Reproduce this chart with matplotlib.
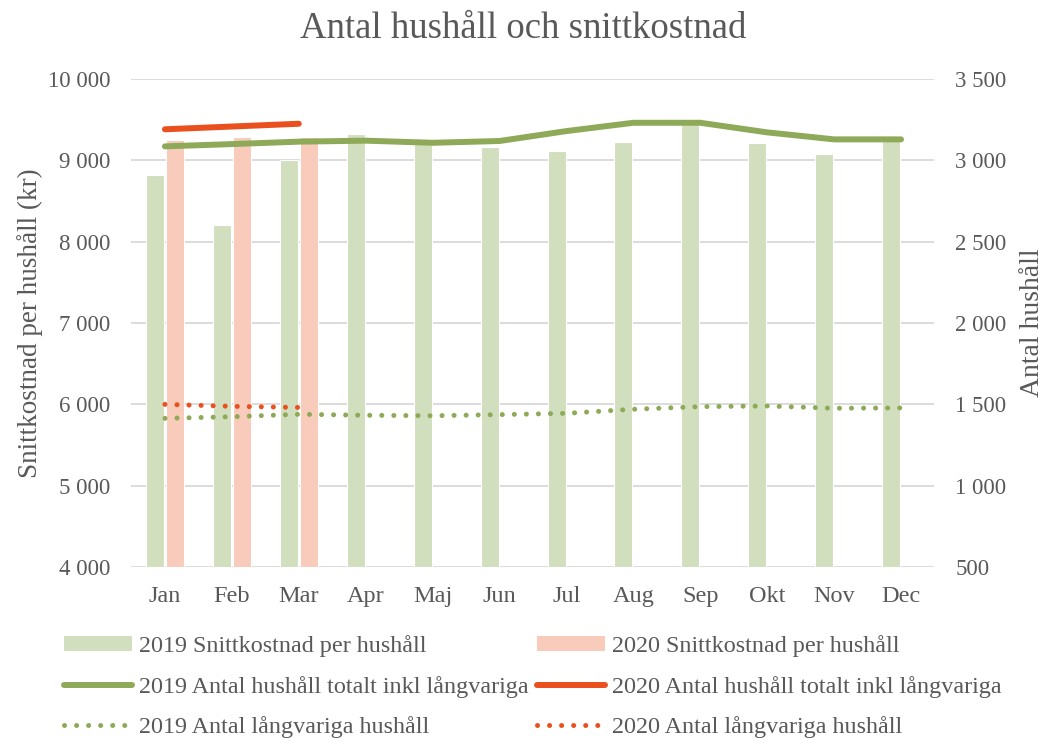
import numpy as np
import matplotlib.pyplot as plt
from matplotlib.ticker import FuncFormatter
from matplotlib.lines import Line2D
from matplotlib.patches import Patch

# --- Data ---
months = ['Jan', 'Feb', 'Mar', 'Apr', 'Maj', 'Jun', 'Jul', 'Aug', 'Sep', 'Okt', 'Nov', 'Dec']

# Snittkostnad per hushåll (kr), vänster axel
cost_2019 = [8820, 8200, 9010, 9320, 9200, 9160, 9120, 9230, 9450, 9210, 9080, 9240]
cost_2020 = [9250, 9290, 9290]

# Antal hushåll totalt inkl långvariga, höger axel
total_2019 = [3086, 3100, 3115, 3121, 3108, 3119, 3180, 3231, 3231, 3172, 3129, 3129]
total_2020 = [3191, 3208, 3225]

# Antal långvariga hushåll, höger axel
long_2019 = [1414, 1424, 1439, 1433, 1430, 1437, 1445, 1470, 1486, 1490, 1476, 1478]
long_2020 = [1500, 1488, 1481]

# --- Style ---
plt.rcParams['font.family'] = ['Liberation Serif', 'DejaVu Serif']
TXT = '#595959'
GRID = '#d9d9d9'
C_BAR19 = '#d2dfbe'
C_BAR20 = '#f8cbbb'
C_LINE19 = '#8eaa58'
C_LINE20 = '#e9501d'
FS = 16.5


def thousands(v, pos):
    return f'{int(v):,}'.replace(',', ' ')


fig = plt.figure(figsize=(10.46, 7.42), dpi=100)
ax = fig.add_axes([0.1257, 0.2358, 0.7677, 0.6577])
ax2 = ax.twinx()

x = np.arange(len(months))
w = 0.27
off = 0.148

ax.bar(x - off, cost_2019, width=w, color=C_BAR19, edgecolor='white', linewidth=0.8, zorder=2)
ax.bar(x[:len(cost_2020)] + off, cost_2020, width=w, color=C_BAR20, edgecolor='white',
       linewidth=0.8, zorder=2)

ax.set_xlim(-0.5, len(months) - 0.5)
ax.set_ylim(4000, 10000)
ax.set_yticks(np.arange(4000, 10001, 1000))
ax.yaxis.set_major_formatter(FuncFormatter(thousands))
ax.grid(axis='y', color=GRID, linewidth=1.3, zorder=0)
ax.set_axisbelow(True)
ax.set_xticks(x)
ax.set_xticklabels(months)

lw = 4.3
dot = (0, (0.01, 2.4))
ax2.plot(x, total_2019, color=C_LINE19, linewidth=lw, solid_capstyle='round', solid_joinstyle='round')
ax2.plot(x[:len(total_2020)], total_2020, color=C_LINE20, linewidth=lw, solid_capstyle='round')
ax2.plot(x, long_2019, color=C_LINE19, linewidth=3.6, linestyle=dot, dash_capstyle='round')
ax2.plot(x[:len(long_2020)], long_2020, color=C_LINE20, linewidth=3.6, linestyle=dot,
         dash_capstyle='round')
ax2.set_ylim(500, 3500)
ax2.set_yticks(np.arange(500, 3501, 500))
ax2.yaxis.set_major_formatter(FuncFormatter(thousands))

for a in (ax, ax2):
    for s in a.spines.values():
        s.set_visible(False)
    a.tick_params(length=0, labelsize=FS, labelcolor=TXT)
ax.tick_params(axis='y', pad=15)
ax2.tick_params(axis='y', pad=15)
ax.tick_params(axis='x', pad=14, labelsize=17.5)

ax.set_ylabel('Snittkostnad per hushåll (kr)', fontsize=19.5, color=TXT, labelpad=4)
ax2.set_ylabel('Antal hushåll', fontsize=20, color=TXT, labelpad=10)

fig.suptitle('Antal hushåll och snittkostnad', fontsize=26.5, color=TXT, y=0.984)

handles = [
    Patch(facecolor=C_BAR19, label='2019 Snittkostnad per hushåll'),
    Line2D([], [], color=C_LINE19, linewidth=lw, solid_capstyle='round',
           label='2019 Antal hushåll totalt inkl långvariga'),
    Line2D([], [], color=C_LINE19, linewidth=3.6, linestyle=dot, dash_capstyle='round',
           label='2019 Antal långvariga hushåll'),
    Patch(facecolor=C_BAR20, label='2020 Snittkostnad per hushåll'),
    Line2D([], [], color=C_LINE20, linewidth=lw, solid_capstyle='round',
           label='2020 Antal hushåll totalt inkl långvariga'),
    Line2D([], [], color=C_LINE20, linewidth=3.6, linestyle=dot, dash_capstyle='round',
           label='2020 Antal långvariga hushåll'),
]
leg = fig.legend(handles=handles, ncol=2, loc='upper left', bbox_to_anchor=(0.050, 0.160),
                 frameon=False, fontsize=17.4, handlelength=2.81, handleheight=0.6,
                 handletextpad=0.29, columnspacing=0.33, labelspacing=0.76, borderpad=0)
for t in leg.get_texts():
    t.set_color(TXT)

fig.savefig('out.png', dpi=100)
